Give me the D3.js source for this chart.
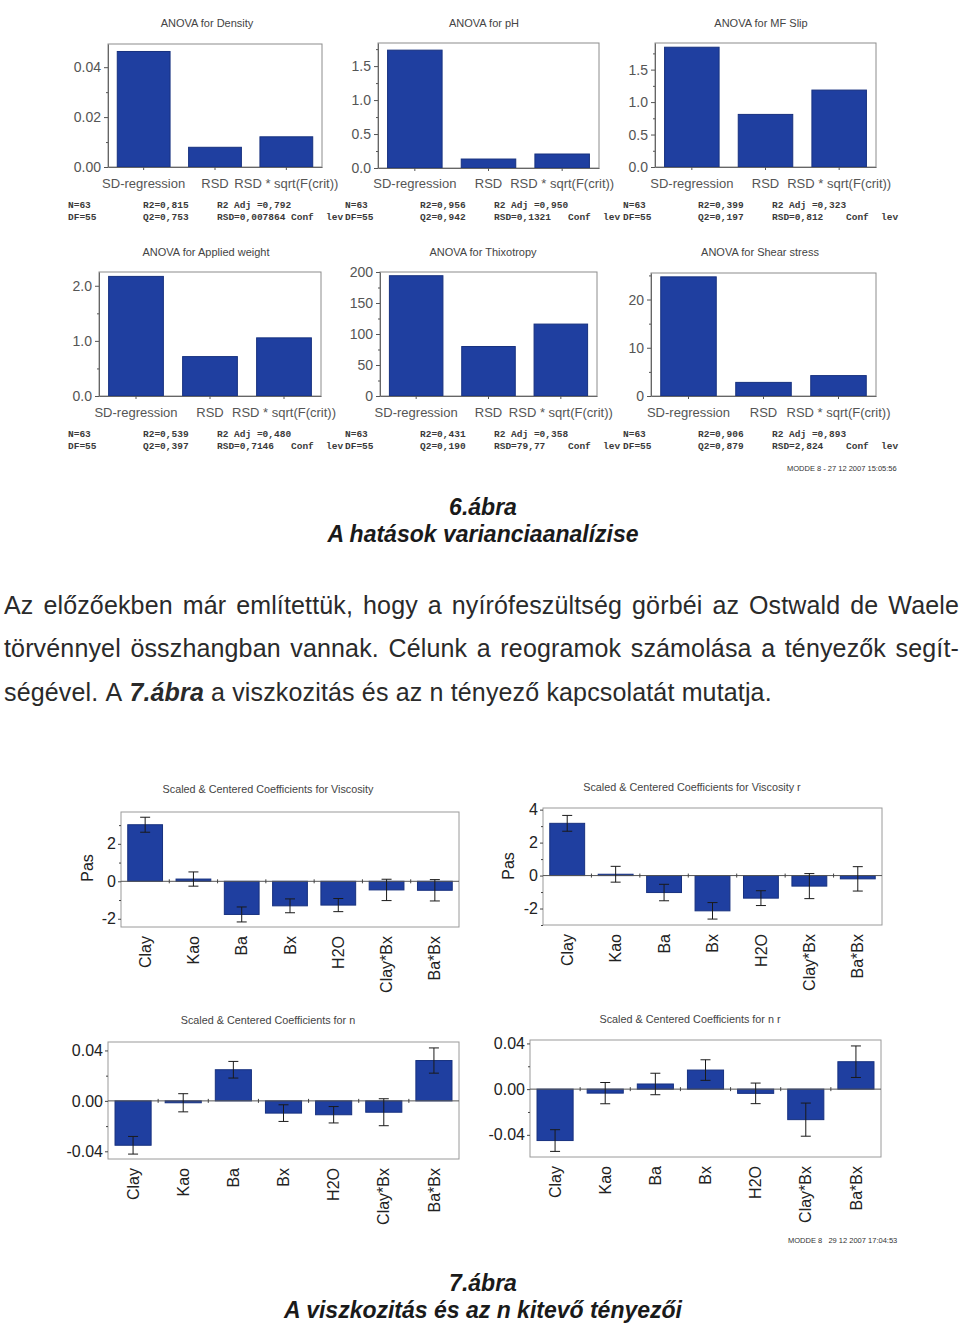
<!DOCTYPE html>
<html lang="hu">
<head>
<meta charset="UTF-8">
<title>6. és 7. ábra</title>
<script src="https://cdn.jsdelivr.net/npm/d3@7"></script>
<style>
  body{margin:0;background:#fff;}
  svg{display:block;font-family:Arial,"Liberation Sans",sans-serif;}
  .title{font-size:11px;fill:#444;}
  .stat{font-family:"Liberation Mono","DejaVu Sans Mono",monospace;font-size:9.5px;font-weight:bold;fill:#3a3a3a;white-space:pre;}
  .bar{fill:#1f3fa0;stroke:#17317f;stroke-width:1;}
  .ay text{font-size:14px;fill:#555;}
  .ay line,.ax line,.minor line{stroke:#555;}
  .ax text{font-size:13px;fill:#555;}
  .ax .domain,.ay .domain{stroke:#666;}
  .cy text{font-size:16px;fill:#222;}
  .cy line,.cminor line{stroke:#444;}
  .cx text{font-size:16px;fill:#222;}
  .cx .domain{display:none;}
  .err{stroke:#1a1a1a;stroke-width:1;}
  .stamp{font-size:7.5px;fill:#333;white-space:pre;}
  .para{font-size:25px;letter-spacing:0.15px;fill:#2a2a2a;}
  .cap{font-size:23px;font-weight:bold;font-style:italic;fill:#1a1a1a;}
</style>
</head>
<body>
<svg id="page" width="960" height="1326"></svg>
<script>
// ---- ANOVA values
var anovaCats = ["SD-regression", "RSD", "RSD * sqrt(F(crit))"];
var density = [0.0463, 0.0079, 0.0121];
var ph = [1.735, 0.132, 0.206];
var mfSlip = [1.845, 0.81, 1.185];
var appliedWeight = [2.17, 0.715, 1.055];
var thixotropy = [194, 79.8, 116];
var shearStress = [24.7, 2.82, 4.23];

var densityStats = ["N=63", "DF=55", "R2=0,815", "Q2=0,753", "R2 Adj =0,792", "RSD=0,007864"];
var phStats = ["N=63", "DF=55", "R2=0,956", "Q2=0,942", "R2 Adj =0,950", "RSD=0,1321"];
var mfSlipStats = ["N=63", "DF=55", "R2=0,399", "Q2=0,197", "R2 Adj =0,323", "RSD=0,812"];
var appliedStats = ["N=63", "DF=55", "R2=0,539", "Q2=0,397", "R2 Adj =0,480", "RSD=0,7146"];
var thixoStats = ["N=63", "DF=55", "R2=0,431", "Q2=0,190", "R2 Adj =0,358", "RSD=79,77"];
var shearStats = ["N=63", "DF=55", "R2=0,906", "Q2=0,879", "R2 Adj =0,893", "RSD=2,824"];

// ---- coefficients
var coefTerms = ["Clay", "Kao", "Ba", "Bx", "H2O", "Clay*Bx", "Ba*Bx"];
var viscCoef = [3.02, 0.12, -1.77, -1.31, -1.27, -0.46, -0.48];
var viscErr = [0.40, 0.38, 0.40, 0.37, 0.35, 0.57, 0.57];
var viscRCoef = [3.17, 0.08, -1.03, -2.14, -1.37, -0.64, -0.20];
var viscRErr = [0.48, 0.48, 0.50, 0.50, 0.45, 0.76, 0.74];
var nCoef = [-0.0352, -0.0015, 0.0247, -0.0097, -0.0110, -0.0090, 0.0320];
var nErr = [0.0070, 0.0072, 0.0066, 0.0066, 0.0065, 0.0107, 0.0100];
var nRCoef = [-0.0450, -0.0035, 0.0045, 0.0167, -0.0037, -0.0267, 0.0240];
var nRErr = [0.0095, 0.0093, 0.0094, 0.0090, 0.0090, 0.0145, 0.0138];

var svg = d3.select("#page");

// plain hyphen for negatives, as in the scan
function fmtHy(spec){
  var f = d3.format(spec);
  return function(d){ return f(d).replace("\u2212", "-"); };
}

function anova(c){
  var g = svg.append("g");
  var x = d3.scaleBand().domain(anovaCats).range([c.x0, c.x1]).paddingInner(0.26).paddingOuter(0.13);
  var y = d3.scaleLinear().domain([0, c.top]).range([c.y1, c.y0]);

  g.append("text").attr("class","title").attr("x",c.tx).attr("y",c.ty)
    .attr("text-anchor","middle").text(c.title);
  g.append("rect").attr("x",c.x0).attr("y",c.y0).attr("width",c.x1-c.x0).attr("height",c.y1-c.y0)
    .attr("fill","none").attr("stroke","#8c8c8c");

  g.selectAll("rect.bar").data(c.values).join("rect").attr("class","bar")
    .attr("x",function(d,i){ return x(anovaCats[i]); })
    .attr("width",x.bandwidth())
    .attr("y",function(d){ return y(d); })
    .attr("height",function(d){ return y(0)-y(d); });

  g.append("g").attr("class","minor").attr("transform","translate("+c.x0+",0)")
    .call(d3.axisLeft(y).tickValues(c.minor).tickSize(2).tickFormat(""))
    .call(function(a){ a.select(".domain").remove(); });
  g.append("g").attr("class","ay").attr("transform","translate("+c.x0+",0)")
    .call(d3.axisLeft(y).tickValues(c.ticks).tickSize(4).tickSizeOuter(0).tickPadding(3).tickFormat(fmtHy(c.fmt)));
  g.append("g").attr("class","ax").attr("transform","translate(0,"+c.y1+")")
    .call(d3.axisBottom(x).tickSize(3).tickSizeOuter(0).tickPadding(c.ly - c.y1 - 3 - 9.2));

  // statistics block under the plot
  var s = c.stats, sx = c.sx, r1 = c.sy, r2 = c.sy + 11.5;
  var cells = [[s[0],0,r1],[s[1],0,r2],[s[2],75,r1],[s[3],75,r2],[s[4],149,r1],[s[5],149,r2],["Conf",223,r2],["lev",258,r2]];
  g.selectAll("text.stat").data(cells).join("text").attr("class","stat")
    .attr("x",function(d){ return sx + d[1]; }).attr("y",function(d){ return d[2]; })
    .text(function(d){ return d[0]; });
}

function coef(c){
  var g = svg.append("g");
  var x = d3.scaleBand().domain(coefTerms).range([c.x0, c.x1]).paddingInner(0.28).paddingOuter(0.14);
  var y = d3.scaleLinear().domain(c.domain).range([c.y1, c.y0]);

  g.append("text").attr("class","title").attr("x",c.tx).attr("y",c.ty)
    .attr("text-anchor","middle").style("font-size","10.8px").text(c.title);
  g.append("rect").attr("x",c.x0).attr("y",c.y0).attr("width",c.x1-c.x0).attr("height",c.y1-c.y0)
    .attr("fill","none").attr("stroke","#9a9a9a");

  g.selectAll("rect.bar").data(c.values).join("rect").attr("class","bar")
    .attr("x",function(d,i){ return x(coefTerms[i]); })
    .attr("width",x.bandwidth())
    .attr("y",function(d){ return Math.min(y(d), y(0)); })
    .attr("height",function(d){ return Math.abs(y(d)-y(0)); });

  g.append("line").attr("x1",c.x0).attr("x2",c.x1).attr("y1",y(0)).attr("y2",y(0))
    .attr("stroke","#555");
  // little marks on the zero line between terms
  g.selectAll("line.sep").data(coefTerms.slice(1)).join("line").attr("class","sep")
    .attr("x1",function(d){ return x(d) - x.step()*0.14; })
    .attr("x2",function(d){ return x(d) - x.step()*0.14; })
    .attr("y1",y(0)-2).attr("y2",y(0)+2).attr("stroke","#444");

  var eb = g.selectAll("g.eb").data(c.values).join("g").attr("class","eb")
    .attr("transform",function(d,i){ return "translate("+(x(coefTerms[i])+x.bandwidth()/2)+",0)"; });
  eb.append("line").attr("class","err")
    .attr("y1",function(d,i){ return y(d - c.err[i]); })
    .attr("y2",function(d,i){ return y(d + c.err[i]); });
  eb.append("line").attr("class","err").attr("x1",-5).attr("x2",5)
    .attr("y1",function(d,i){ return y(d + c.err[i]); })
    .attr("y2",function(d,i){ return y(d + c.err[i]); });
  eb.append("line").attr("class","err").attr("x1",-5).attr("x2",5)
    .attr("y1",function(d,i){ return y(d - c.err[i]); })
    .attr("y2",function(d,i){ return y(d - c.err[i]); });

  g.append("g").attr("class","cminor").attr("transform","translate("+c.x0+",0)")
    .call(d3.axisLeft(y).tickValues(c.minor).tickSize(2).tickFormat(""))
    .call(function(a){ a.select(".domain").remove(); });
  g.append("g").attr("class","cy").attr("transform","translate("+c.x0+",0)")
    .call(d3.axisLeft(y).tickValues(c.ticks).tickSize(3).tickPadding(2).tickFormat(fmtHy(c.fmt)))
    .call(function(a){ a.select(".domain").remove(); });

  g.append("g").attr("class","cx").attr("transform","translate(0,"+c.y1+")")
    .call(d3.axisBottom(x).tickSize(0))
    .selectAll("text")
    .attr("transform","rotate(-90)")
    .attr("text-anchor","end")
    .attr("x",-9).attr("y",0).attr("dy","0.35em");

  if (c.ylab) {
    g.append("text").attr("transform","translate("+c.lx+","+c.ly+") rotate(-90)")
      .attr("text-anchor","middle").attr("dy","0.35em")
      .style("font-size","16px").style("fill","#222").text(c.ylab);
  }
}

// ---- figure 6
anova({title:"ANOVA for Density", tx:207, ty:27, x0:108, x1:322, y0:44, y1:167, top:0.0493,
  ticks:[0,0.02,0.04], minor:[0.01,0.03], fmt:".2f", values:density, ly:188, stats:densityStats, sx:68, sy:208});
anova({title:"ANOVA for pH", tx:484, ty:27, x0:378, x1:599, y0:43, y1:168, top:1.84,
  ticks:[0,0.5,1,1.5], minor:[0.25,0.75,1.25,1.75], fmt:".1f", values:ph, ly:188, stats:phStats, sx:345, sy:208});
anova({title:"ANOVA for MF Slip", tx:761, ty:27, x0:655, x1:876, y0:43, y1:167, top:1.91,
  ticks:[0,0.5,1,1.5], minor:[0.25,0.75,1.25,1.75], fmt:".1f", values:mfSlip, ly:188, stats:mfSlipStats, sx:623, sy:208});
anova({title:"ANOVA for Applied weight", tx:206, ty:256, x0:99, x1:321, y0:272, y1:396, top:2.25,
  ticks:[0,1,2], minor:[0.5,1.5], fmt:".1f", values:appliedWeight, ly:417, stats:appliedStats, sx:68, sy:437});
anova({title:"ANOVA for Thixotropy", tx:483, ty:256, x0:380, x1:597, y0:272, y1:396, top:200,
  ticks:[0,50,100,150,200], minor:[25,75,125,175], fmt:"d", values:thixotropy, ly:417, stats:thixoStats, sx:345, sy:437});
anova({title:"ANOVA for Shear stress", tx:760, ty:256, x0:651, x1:876, y0:273, y1:396, top:25.5,
  ticks:[0,10,20], minor:[5,15,25], fmt:"d", values:shearStress, ly:417, stats:shearStats, sx:623, sy:437});

svg.append("text").attr("class","stamp").attr("x",787).attr("y",471).text("MODDE 8 - 27 12 2007 15:05:56");

// ---- captions and paragraph
function caption(t, y){
  svg.append("text").attr("class","cap").attr("x",483).attr("y",y).attr("text-anchor","middle").text(t);
}
caption("6.ábra", 515);
caption("A hatások varianciaanalízise", 542);

var paraLines = [
  {text:"Az előzőekben már említettük, hogy a nyírófeszültség görbéi az Ostwald de Waele", justify:true},
  {text:"törvénnyel összhangban vannak. Célunk a reogramok számolása a tényezők segít-", justify:true},
  {text:"ségével. A *7.ábra* a viszkozitás és az n tényező kapcsolatát mutatja.", justify:false}
];
var px0 = 4, px1 = 959;
var probe = svg.append("text").attr("class","para").text("a a");
var spW = probe.node().getComputedTextLength();
probe.text("aa"); spW -= probe.node().getComputedTextLength();
probe.remove();
paraLines.forEach(function(line, li){
  var yb = 614 + li*43.3;
  var words = line.text.split(" ").map(function(w){
    var em = /^\*.*\*$/.test(w);
    return {w: em ? w.slice(1,-1) : w, em: em};
  });
  var nodes = words.map(function(d){
    var t = svg.append("text").attr("class","para").attr("y",yb).text(d.w);
    if (d.em) t.style("font-weight","bold").style("font-style","italic");
    return t;
  });
  var widths = nodes.map(function(t){ return t.node().getComputedTextLength(); });
  var total = d3.sum(widths);
  var gap = line.justify ? (px1 - px0 - total)/(words.length-1) : spW;
  var cx = px0;
  nodes.forEach(function(t,i){ t.attr("x",cx); cx += widths[i] + gap; });
});

// ---- figure 7
coef({title:"Scaled & Centered Coefficients for Viscosity", tx:268, ty:793, x0:121, x1:459, y0:812, y1:927,
  domain:[-2.44,3.7], ticks:[-2,0,2], minor:[-1,1,3], fmt:"d", values:viscCoef, err:viscErr,
  ylab:"Pas", lx:87, ly:868});
coef({title:"Scaled & Centered Coefficients for Viscosity  r", tx:692, ty:791, x0:543, x1:882, y0:808, y1:925,
  domain:[-3,4.1], ticks:[-2,0,2,4], minor:[-3,-1,1,3], fmt:"d", values:viscRCoef, err:viscRErr,
  ylab:"Pas", lx:508, ly:866});
coef({title:"Scaled & Centered Coefficients for n", tx:268, ty:1024, x0:108, x1:459, y0:1042, y1:1159,
  domain:[-0.0461,0.0467], ticks:[-0.04,0,0.04], minor:[-0.02,0.02], fmt:".2f", values:nCoef, err:nErr});
coef({title:"Scaled & Centered Coefficients for n r", tx:690, ty:1023, x0:530, x1:881, y0:1040, y1:1157,
  domain:[-0.0594,0.043], ticks:[-0.04,0,0.04], minor:[-0.02,0.02], fmt:".2f", values:nRCoef, err:nRErr});

svg.append("text").attr("class","stamp").attr("x",788).attr("y",1243).text("MODDE 8   29 12 2007 17:04:53");

caption("7.ábra", 1291);
caption("A viszkozitás és az n kitevő tényezői", 1318);
</script>
</body>
</html>
